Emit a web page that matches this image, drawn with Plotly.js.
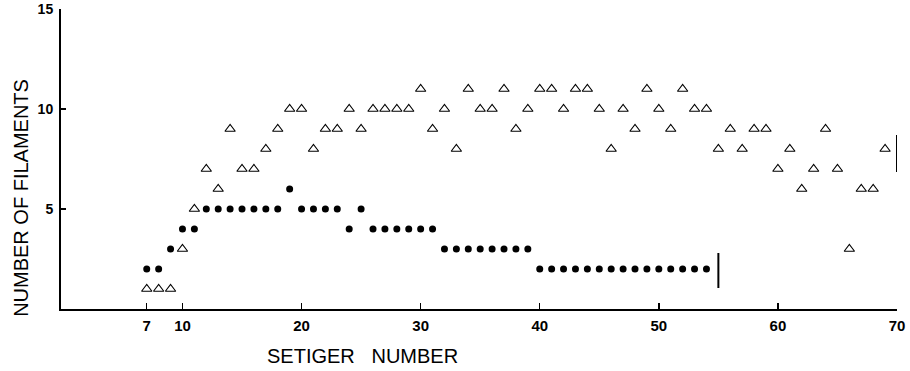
<!DOCTYPE html>
<html>
<head>
<meta charset="utf-8">
<script src="https://cdn.plot.ly/plotly-3.0.1.min.js"></script>
<style>html,body{margin:0;padding:0;background:#fff;}#chart{width:910px;height:371px;}</style>
</head>
<body>
<div id="chart"></div>
<script>
// Filled circles: setiger number vs number of filaments
const dotSetiger = [7,8,9,10,11,12,13,14,15,16,17,18,19,20,21,22,23,24,25,26,27,28,29,30,31,32,33,34,35,36,37,38,39,40,41,42,43,44,45,46,47,48,49,50,51,52,53,54];
const dotFilaments = [2,2,3,4,4,5,5,5,5,5,5,5,6,5,5,5,5,4,5,4,4,4,4,4,4,3,3,3,3,3,3,3,3,2,2,2,2,2,2,2,2,2,2,2,2,2,2,2];

// Open triangles
const triSetiger = [7,8,9,10,11,12,13,14,15,16,17,18,19,20,21,22,23,24,25,26,27,28,29,30,31,32,33,34,35,36,37,38,39,40,41,42,43,44,45,46,47,48,49,50,51,52,53,54,55,56,57,58,59,60,61,62,63,64,65,66,67,68,69];
const triFilaments = [1,1,1,3,5,7,6,9,7,7,8,9,10,10,8,9,9,10,9,10,10,10,10,11,9,10,8,11,10,10,11,9,10,11,11,10,11,11,10,8,10,9,11,10,9,11,10,10,8,9,8,9,9,7,8,6,7,9,7,3,6,6,8];

// End-of-series vertical bars
const endBarSetiger = [55, 70];
const endBarLow = [1.05, 6.85];
const endBarHigh = [2.8, 8.7];

// Axis ticks
const xTickVals = [7,10,20,30,40,50,60,70];
const xTickText = ['7','10','20','30','40','50','60','70'];
const yTickVals = [5,10,15];
const yTickText = ['5','10','15'];

const traces = [
  {x: triSetiger, y: triFilaments, type: 'scatter', mode: 'markers',
   marker: {symbol: 'triangle-up-open', size: 9, color: '#000', line: {width: 1.1, color: '#000'}},
   hoverinfo: 'skip', showlegend: false},
  {x: dotSetiger, y: dotFilaments, type: 'scatter', mode: 'markers',
   marker: {symbol: 'circle', size: 7, color: '#000'},
   hoverinfo: 'skip', showlegend: false}
];
endBarSetiger.forEach((s, i) => {
  traces.push({x: [s, s], y: [endBarLow[i], endBarHigh[i]], type: 'scatter', mode: 'lines',
    line: {color: '#000', width: 2}, hoverinfo: 'skip', showlegend: false});
});

const titleFont = {family: 'Liberation Sans, Arial, sans-serif', size: 20, color: '#000'};
const xTickFont = {family: 'Liberation Sans, Arial, sans-serif', size: 15, color: '#000', weight: 'bold'};
const yTickFont = {family: 'Liberation Sans, Arial, sans-serif', size: 14, color: '#000', weight: 'bold'};

const layout = {
  width: 910, height: 371,
  margin: {l: 61, r: 13, t: 9, b: 62},
  paper_bgcolor: '#fff', plot_bgcolor: '#fff',
  showlegend: false,
  xaxis: {range: [-0.2, 70], showline: true, linewidth: 2, linecolor: '#000',
    ticks: 'inside', ticklen: 6, tickwidth: 1.5, tickcolor: '#000',
    tickmode: 'array', tickvals: xTickVals, ticktext: xTickText,
    showgrid: false, zeroline: false, tickfont: xTickFont, ticklabelstandoff: 2},
  yaxis: {range: [0, 15], showline: true, linewidth: 2, linecolor: '#000',
    ticks: 'inside', ticklen: 5, tickwidth: 2, tickcolor: '#000',
    tickmode: 'array', tickvals: yTickVals, ticktext: yTickText,
    showgrid: false, zeroline: false, tickfont: yTickFont, ticklabelstandoff: 3},
  annotations: [
    {text: 'SETIGER\u00a0\u00a0\u00a0NUMBER', xref: 'paper', yref: 'paper', x: 0.361, y: -0.158,
     xanchor: 'center', yanchor: 'middle', showarrow: false, font: titleFont},
    {text: 'NUMBER OF FILAMENTS', xref: 'paper', yref: 'paper', x: -0.048, y: 0.37,
     xanchor: 'center', yanchor: 'middle', textangle: -90, showarrow: false, font: titleFont}
  ]
};

Plotly.newPlot('chart', traces, layout, {staticPlot: true, displayModeBar: false});
</script>
</body>
</html>
